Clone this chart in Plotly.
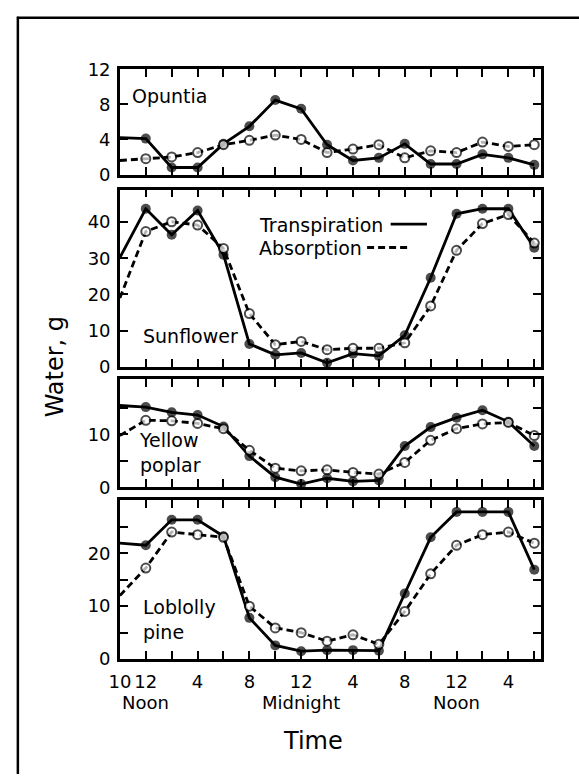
import plotly.graph_objects as go

W, H = 579, 784

hours = [10, 12, 14, 16, 18, 20, 22, 24, 26, 28, 30, 32, 34, 36, 38, 40, 42]

opuntia_trans = [4.2, 4.1, 0.8, 0.8, 3.5, 5.5, 8.5, 7.5, 3.4, 1.6, 1.9, 3.5, 1.2, 1.2, 2.3, 1.9, 1.1]
opuntia_abs = [1.6, 1.8, 2.0, 2.5, 3.4, 3.9, 4.5, 4.0, 2.5, 2.9, 3.4, 1.9, 2.7, 2.5, 3.7, 3.2, 3.4]

sun_trans = [30.2, 43.7, 36.5, 43.2, 31.0, 6.3, 3.3, 3.8, 1.1, 3.6, 3.0, 8.7, 24.6, 42.3, 43.7, 43.7, 32.9]
sun_abs = [19.0, 37.4, 40.1, 39.2, 32.7, 14.7, 6.1, 7.0, 4.7, 5.1, 5.1, 6.6, 16.8, 32.2, 39.6, 42.1, 34.2]

poplar_trans = [15.5, 15.2, 14.2, 13.7, 11.5, 5.9, 1.9, 0.6, 1.7, 1.1, 1.3, 7.8, 11.4, 13.2, 14.6, 12.4, 7.8]
poplar_abs = [9.8, 12.7, 12.6, 12.1, 11.1, 7.0, 3.6, 3.1, 3.3, 2.8, 2.5, 4.7, 8.9, 11.1, 12.0, 12.3, 9.8]

lob_trans = [21.9, 21.5, 26.3, 26.3, 23.2, 7.8, 2.6, 1.5, 1.7, 1.7, 1.6, 12.4, 23.0, 27.8, 27.8, 27.8, 16.9]
lob_abs = [12.0, 17.2, 24.0, 23.5, 23.0, 10.0, 5.9, 5.0, 3.4, 4.6, 2.8, 9.0, 16.1, 21.5, 23.5, 24.0, 21.9]

x_tickvals = [10, 12, 14, 16, 18, 20, 22, 24, 26, 28, 30, 32, 34, 36, 38, 40, 42]
x_ticktext = ["10", "12", "", "4", "", "8", "", "12", "", "4", "", "8", "", "12", "", "4", ""]
period_labels = ["Noon", "Midnight", "Noon"]
period_hours = [12, 24, 36]

panels = [
    dict(name="Opuntia", trans=opuntia_trans, absb=opuntia_abs, yrange=[0, 12],
         tickvals=[0, 4, 8, 12], ticktext=["0", "4", "8", "12"], top=60, bottom=168),
    dict(name="Sunflower", trans=sun_trans, absb=sun_abs, yrange=[0, 49],
         tickvals=[0, 10, 20, 30, 40], ticktext=["0", "10", "20", "30", "40"], top=183.5, bottom=365.5),
    dict(name="Yellow poplar", trans=poplar_trans, absb=poplar_abs, yrange=[0, 20.5],
         tickvals=[0, 5, 10, 15], ticktext=["0", "", "10", ""], top=378.3, bottom=489.3),
    dict(name="Loblolly pine", trans=lob_trans, absb=lob_abs, yrange=[0, 30],
         tickvals=[0, 5, 10, 15, 20, 25], ticktext=["0", "", "10", "", "20", ""], top=502.7, bottom=666),
]

FONT = "DejaVu Sans"
X0, X1 = 111, 540
TICK_SIZE = 18
LABEL_SIZE = 19
TITLE_SIZE = 24
DASH = "7px,4px"


def px(x):
    return x / W


def py(y):
    return 1 - y / H


fig = go.Figure()
sizes_solid = [0] + [10] * (len(hours) - 1)
sizes_open = [0] + [9] * (len(hours) - 1)

layout = dict(
    width=W, height=H, autosize=False,
    margin=dict(l=0, r=0, t=0, b=0),
    paper_bgcolor="white", plot_bgcolor="white",
    showlegend=False,
    font=dict(family=FONT, size=TICK_SIZE, color="black"),
)

for i, p in enumerate(panels):
    n = i + 1
    xa = "x" if n == 1 else f"x{n}"
    ya = "y" if n == 1 else f"y{n}"
    fig.add_trace(go.Scatter(
        x=hours, y=p["trans"], xaxis=xa, yaxis=ya, mode="lines+markers",
        line=dict(color="black", width=2.8),
        marker=dict(color="black", size=sizes_solid, line=dict(width=0)),
        cliponaxis=False, name="Transpiration"))
    fig.add_trace(go.Scatter(
        x=hours, y=p["absb"], xaxis=xa, yaxis=ya, mode="lines+markers",
        line=dict(color="black", width=2.8, dash=DASH),
        marker=dict(color="white", size=sizes_open, line=dict(color="black", width=2)),
        cliponaxis=False, name="Absorption"))
    last = (n == len(panels))
    layout["xaxis" if n == 1 else f"xaxis{n}"] = dict(
        domain=[px(X0), px(X1)], range=[10, 42.5], anchor=ya,
        tickvals=x_tickvals, ticktext=x_ticktext if last else [""] * len(x_tickvals),
        showticklabels=last, ticks="inside", ticklen=8, tickwidth=2, tickcolor="black",
        ticklabelstandoff=4,
        showline=True, linewidth=2.5, linecolor="black", mirror="allticks",
        showgrid=False, zeroline=False, fixedrange=True,
        tickfont=dict(family=FONT, size=TICK_SIZE, color="black"))
    layout["yaxis" if n == 1 else f"yaxis{n}"] = dict(
        domain=[py(p["bottom"]), py(p["top"])], range=p["yrange"], anchor=xa,
        tickvals=p["tickvals"], ticktext=p["ticktext"],
        ticks="inside", ticklen=8, tickwidth=2, tickcolor="black",
        ticklabelstandoff=3,
        showline=True, linewidth=2.5, linecolor="black", mirror="allticks",
        showgrid=False, zeroline=False, fixedrange=True,
        tickfont=dict(family=FONT, size=TICK_SIZE, color="black"))

annotations = []


def ann(text, x, y, size=LABEL_SIZE, xanchor="left", **kw):
    annotations.append(dict(text=text, x=px(x), y=py(y), xref="paper", yref="paper",
                            showarrow=False, xanchor=xanchor, yanchor="middle", align="left",
                            font=dict(family=FONT, size=size, color="black"), **kw))


ann("Opuntia", 121, 87)
ann("Sunflower", 133, 334)
ann("Yellow<br>poplar", 128, 454)
ann("Loblolly<br>pine", 133, 625)
ann("Transpiration", 251, 220)
ann("Absorption", 251, 244)
ann("Time", 308, 750, size=TITLE_SIZE, xanchor="center")
ann("Water, g", 45, 366, size=TITLE_SIZE, xanchor="center", textangle=-90)

for lbl, h in zip(period_labels, period_hours):
    annotations.append(dict(text=lbl, x=h, y=py(711), xref="x4", yref="paper",
                            showarrow=False, xanchor="center", yanchor="middle",
                            font=dict(family=FONT, size=TICK_SIZE, color="black")))

layout["annotations"] = annotations

shapes = [
    # legend line samples
    dict(type="line", xref="paper", yref="paper", x0=px(387), x1=px(424), y0=py(219), y1=py(219),
         line=dict(color="black", width=2.8)),
    dict(type="line", xref="paper", yref="paper", x0=px(363), x1=px(405), y0=py(243), y1=py(243),
         line=dict(color="black", width=2.8, dash=DASH)),
    # outer frame (left and top edges)
    dict(type="line", xref="paper", yref="paper", x0=px(7), x1=px(7), y0=py(6), y1=0,
         line=dict(color="black", width=2.5)),
    dict(type="line", xref="paper", yref="paper", x0=px(6), x1=1, y0=py(7), y1=py(7),
         line=dict(color="black", width=2.5)),
]
layout["shapes"] = shapes

fig.update_layout(**layout)
fig.write_html(
    "out.html",
    config={"displayModeBar": False, "responsive": False},
    post_script="document.body.style.margin='0';document.body.style.overflow='hidden';",
)
